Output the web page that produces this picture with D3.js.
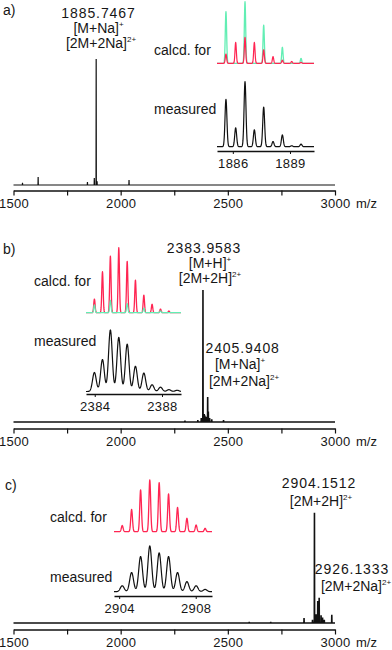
<!DOCTYPE html>
<html><head><meta charset="utf-8">
<script src="https://cdn.jsdelivr.net/npm/d3@7"></script>
<style>
body{margin:0;background:#fff}
text{font-family:"Liberation Sans",Arial,Helvetica,sans-serif;fill:#161616}
</style>
</head><body>
<svg id="chart" width="392" height="650"></svg>
<script>
// ---------------- data ----------------
const mzTicks = [1500, 2000, 2500, 3000];
const mzAllTicks = [1500, 1750, 2000, 2250, 2500, 2750, 3000];
const axisTitle = "m/z";

// main spectra (m/z, relative intensity)
const specA_mz  = [1542, 1615, 1845, 1877, 1885.75, 1890, 2039];
const specA_int = [0.018, 0.063, 0.024, 0.056, 1.0, 0.03, 0.04];

const specB_mz  = [2300, 2360, 2376, 2383.96, 2390, 2393, 2400, 2405.94, 2409, 2415, 2425, 2480];
const specB_int = [0.01, 0.015, 0.03, 1.0, 0.06, 0.05, 0.04, 0.19, 0.08, 0.03, 0.02, 0.015];

const specC_mz  = [2600, 2700, 2855.6, 2895, 2904.15, 2912, 2919.5, 2926.13, 2935, 2942, 2950, 2985];
const specC_int = [0.01, 0.01, 0.045, 0.03, 1.0, 0.08, 0.2, 0.23, 0.07, 0.05, 0.03, 0.075];

// inset a
const insetA_ticks = [1886, 1889];
const insetA_green_mz  = [1885.64, 1886.64, 1887.62, 1888.60, 1889.58];
const insetA_green_int = [0.84, 1.0, 0.62, 0.26, 0.08];
const insetA_red_mz  = [1885.64, 1886.15, 1886.64, 1887.13, 1887.62, 1888.11, 1888.60, 1889.09, 1889.58];
const insetA_red_int = [0.15, 0.34, 0.42, 0.34, 0.22, 0.11, 0.05, 0.03, 0.015];
const insetA_meas_mz  = [1885.64, 1886.15, 1886.64, 1887.13, 1887.62, 1888.11, 1888.60, 1889.09, 1889.58];
const insetA_meas_int = [0.73, 0.29, 1.0, 0.26, 0.61, 0.08, 0.18, 0.015, 0.04];

// inset b
const insetB_ticks = [2384, 2388];
const insetB_red_mz  = [2383.98, 2384.46, 2384.93, 2385.43, 2385.93, 2386.42, 2386.92, 2387.41, 2387.91, 2388.41];
const insetB_red_int = [0.21, 0.63, 0.87, 1.0, 0.79, 0.50, 0.27, 0.13, 0.056, 0.026];
const insetB_green_mz  = [2383.98, 2384.93, 2385.93, 2386.92, 2387.91];
const insetB_green_int = [0.12, 0.19, 0.14, 0.07, 0.026];
const insetB_meas_mz  = [2383.98, 2384.46, 2384.93, 2385.43, 2385.93, 2386.42, 2386.92, 2387.41, 2387.91, 2388.41, 2388.9];
const insetB_meas_int = [0.31, 0.52, 1.0, 0.88, 0.77, 0.41, 0.30, 0.11, 0.07, 0.03, 0.02];

// inset c
const insetC_ticks = [2904, 2908];
const insetC_red_mz  = [2904.16, 2904.65, 2905.12, 2905.60, 2906.09, 2906.58, 2907.05, 2907.54, 2908.02, 2908.49];
const insetC_red_int = [0.12, 0.43, 0.81, 1.0, 0.95, 0.73, 0.47, 0.26, 0.13, 0.065];
const insetC_meas_mz  = [2904.16, 2904.65, 2905.12, 2905.60, 2906.09, 2906.58, 2907.05, 2907.54, 2908.02, 2908.49];
const insetC_meas_int = [0.13, 0.42, 0.77, 1.0, 0.85, 0.77, 0.42, 0.22, 0.13, 0.05];

// ---------------- drawing ----------------
const svg = d3.select("#chart");
const GREEN = "#62eeb4", RED = "#ff2552", BLACK = "#111";

const x = d3.scaleLinear().domain([1500, 3000]).range([13.5, 335]);

function mainPanel(axisY, zeroY, topY, mz, ints, lw) {
  const y = d3.scaleLinear().domain([0, 1]).range([zeroY, topY]);
  const pts = [[1500, 0]];
  mz.forEach((m, i) => { pts.push([m - 0.7, 0], [m, ints[i]], [m + 0.7, 0]); });
  pts.push([3000, 0]);
  svg.append("path").attr("d", d3.line().x(d => x(d[0])).y(d => y(d[1]))(pts))
    .attr("fill", "none").attr("stroke", BLACK).attr("stroke-width", lw);
  const ax = d3.axisBottom(x).tickValues(mzAllTicks)
    .tickFormat(d => mzTicks.includes(d) ? d : "").tickSize(5).tickSizeOuter(0).tickPadding(3.3);
  const g = svg.append("g").attr("transform", `translate(0,${axisY})`).call(ax);
  g.select(".domain").attr("stroke", BLACK).attr("stroke-width", 1.5);
  g.selectAll(".tick line").attr("stroke", BLACK).attr("stroke-width", 1.2);
  g.selectAll(".tick text").attr("font-size", 13).attr("fill", "#161616")
    .attr("letter-spacing", 0.3)
    .style("font-family", '"Liberation Sans",Arial,sans-serif');
  svg.append("text").attr("x", 356).attr("y", axisY + 17.5).attr("font-size", 13).text(axisTitle);
}

function profile(mz, ints, dom, sigma) {
  const pts = [];
  for (let m = dom[0]; m <= dom[1] + 1e-9; m += 0.01) {
    let s = 0;
    for (let i = 0; i < mz.length; i++) s += ints[i] * Math.exp(-((m - mz[i]) ** 2) / (2 * sigma * sigma));
    pts.push([m, s]);
  }
  return pts;
}

function insetTrace(xs, zeroY, topY, mz, ints, sigma, color, lw) {
  const y = d3.scaleLinear().domain([0, 1]).range([zeroY, topY]);
  svg.append("path").attr("d", d3.line().x(d => xs(d[0])).y(d => y(d[1]))(profile(mz, ints, xs.domain(), sigma)))
    .attr("fill", "none").attr("stroke", color).attr("stroke-width", lw).attr("stroke-linejoin", "round");
}

function insetAxis(xs, axisY, ticks) {
  const ax = d3.axisBottom(xs).tickValues(ticks).tickSize(3).tickSizeOuter(0).tickPadding(4.5).tickFormat(d3.format("d"));
  const g = svg.append("g").attr("transform", `translate(0,${axisY})`).call(ax);
  g.select(".domain").attr("stroke", BLACK).attr("stroke-width", 1.3);
  g.selectAll(".tick line").attr("stroke", BLACK).attr("stroke-width", 1);
  g.selectAll(".tick text").attr("font-size", 13).attr("fill", "#161616")
    .attr("letter-spacing", 0.4)
    .style("font-family", '"Liberation Sans",Arial,sans-serif');
}

function label(xp, yp, main, sup, anchor, ls) {
  const t = svg.append("text").attr("x", xp).attr("y", yp).attr("font-size", 14)
    .attr("text-anchor", anchor || "middle");
  if (ls) t.attr("letter-spacing", ls);
  t.append("tspan").text(main);
  if (sup) t.append("tspan").attr("font-size", 8).attr("dy", -6).text(sup);
  return t;
}

// ---- panel a ----
mainPanel(190.5, 185, 59, specA_mz, specA_int, 1.2);
label(3, 15, "a)", null, "start");
label(98.5, 18, "1885.7467", null, "middle", 0.9);
label(98.5, 33, "[M+Na]", "+");
label(101, 48, "[2M+2Na]", "2+");
label(154, 55, "calcd. for", null, "start");
label(154, 114, "measured", null, "start");
const xa = d3.scaleLinear().domain([1885.17, 1890.26]).range([217, 314]);
insetTrace(xa, 63.3, 1.7, insetA_green_mz, insetA_green_int, 0.035, GREEN, 1.3);
insetTrace(xa, 63.3, 1.7, insetA_red_mz, insetA_red_int, 0.035, RED, 1.2);
insetTrace(xa, 146.7, 81.7, insetA_meas_mz, insetA_meas_int, 0.05, BLACK, 1.2);
insetAxis(xa, 151, insetA_ticks);

// ---- panel b ----
mainPanel(428.5, 422, 290, specB_mz, specB_int, 1.6);
label(3, 254, "b)", null, "start");
label(204, 253, "2383.9583", null, "middle", 0.9);
label(210, 268, "[M+H]", "+");
label(210, 283, "[2M+2H]", "2+");
label(205.5, 353, "2405.9408", null, "start", 0.9);
label(240, 369, "[M+Na]", "+");
label(244, 386, "[2M+2Na]", "2+");
label(34, 286, "calcd. for", null, "start");
label(34, 346, "measured", null, "start");
const xb = d3.scaleLinear().domain([2383.48, 2389.13]).range([86, 181]);
insetTrace(xb, 312.7, 247.7, insetB_red_mz, insetB_red_int, 0.04, RED, 1.3);
insetTrace(xb, 312.7, 247.7, insetB_green_mz, insetB_green_int, 0.04, GREEN, 1.2);
insetTrace(xb, 391.5, 330, insetB_meas_mz, insetB_meas_int, 0.11, BLACK, 1.2);
insetAxis(xb, 394, insetB_ticks);

// ---- panel c ----
mainPanel(629.5, 623, 512.7, specC_mz, specC_int, 1.6);
label(5, 490, "c)", null, "start");
label(319, 488, "2904.1512", null, "middle", 0.9);
label(321, 506, "[2M+2H]", "2+");
label(352, 574, "2926.1333", null, "middle", 0.9);
label(356, 591, "[2M+2Na]", "2+");
label(50, 522, "calcd. for", null, "start");
label(50, 582, "measured", null, "start");
const xc = d3.scaleLinear().domain([2903.73, 2908.85]).range([114, 212]);
insetTrace(xc, 531.7, 480, insetC_red_mz, insetC_red_int, 0.045, RED, 1.3);
insetTrace(xc, 591.7, 546, insetC_meas_mz, insetC_meas_int, 0.1, BLACK, 1.2);
insetAxis(xc, 596, insetC_ticks);
</script>
</body></html>
